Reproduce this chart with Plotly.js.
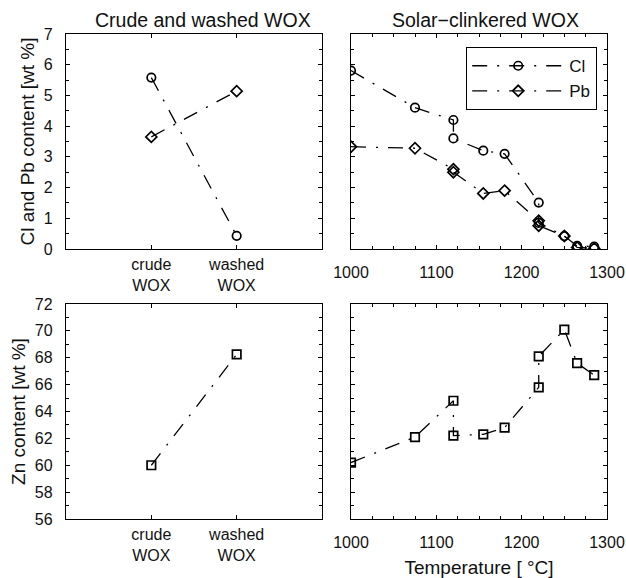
<!DOCTYPE html>
<html>
<head>
<meta charset="utf-8">
<script src="https://cdn.plot.ly/plotly-3.0.1.min.js"></script>
<style>html,body{margin:0;padding:0;background:#fff}</style>
</head>
<body>
<div id="chart" style="width:626px;height:578px"></div>
<script>
// Left panels: crude vs washed WOX
const washCats = [1, 2];
const washLabels = ['crude<br>WOX', 'washed<br>WOX'];
const washCl = [5.58, 0.43];
const washPb = [3.65, 5.14];
const washZn = [60.0, 68.25];

// Right panels: solar-clinkered WOX vs temperature (°C)
const temps = [1000, 1075, 1120, 1120, 1155, 1180, 1220, 1220, 1250, 1265, 1285];
const solarCl = [5.81, 4.60, 4.20, 3.60, 3.20, 3.10, 1.51, 0.85, 0.42, 0.10, 0.08];
const solarPb = [3.33, 3.28, 2.60, 2.50, 1.81, 1.90, 0.92, 0.76, 0.42, 0.05, 0.02];
const solarZn = [60.2, 62.1, 64.8, 62.2, 62.3, 62.8, 65.8, 68.1, 70.1, 67.6, 66.7];

const W = 626, H = 578;
const FONT = 'Liberation Sans, Arial, sans-serif';
const DASH = '15px,10px,2px,10px';
const lineStyle = {color: 'black', width: 1.3, dash: DASH};
function mk(symbol) {
  return {symbol: symbol, size: 8.5, color: 'black', line: {color: 'black', width: 1.7}};
}

const traces = [
  {x: washCats, y: washCl, xaxis: 'x', yaxis: 'y', mode: 'lines+markers', line: lineStyle, marker: mk('circle-open'), showlegend: false, name: 'Cl'},
  {x: washCats, y: washPb, xaxis: 'x', yaxis: 'y', mode: 'lines+markers', line: lineStyle, marker: mk('diamond-open'), showlegend: false, name: 'Pb'},
  {x: temps, y: solarCl, xaxis: 'x2', yaxis: 'y2', mode: 'lines+markers', line: lineStyle, marker: mk('circle-open'), name: 'Cl'},
  {x: temps, y: solarPb, xaxis: 'x2', yaxis: 'y2', mode: 'lines+markers', line: lineStyle, marker: mk('diamond-open'), name: 'Pb'},
  {x: washCats, y: washZn, xaxis: 'x3', yaxis: 'y3', mode: 'lines+markers', line: lineStyle, marker: mk('square-open'), showlegend: false, name: 'Zn'},
  {x: temps, y: solarZn, xaxis: 'x4', yaxis: 'y4', mode: 'lines+markers', line: lineStyle, marker: mk('square-open'), showlegend: false, name: 'Zn'}
];

const px = v => v / W;
const py = v => 1 - v / H;
const leftDom = [px(66), px(322)];
const rightDom = [px(351), px(607)];
const topDom = [py(249), py(34)];
const botDom = [py(519), py(304)];

function baseAxis(extra) {
  return Object.assign({
    showline: true, linecolor: 'black', linewidth: 1.2, mirror: 'ticks',
    ticks: 'inside', ticklen: 4, tickwidth: 1, tickcolor: 'black',
    showgrid: false, zeroline: false, fixedrange: true,
    tickfont: {family: FONT, size: 16, color: '#111'},
    ticklabelstandoff: 9
  }, extra);
}
const minorX = {dtick: 25, ticks: 'inside', ticklen: 3, tickcolor: 'black', tickwidth: 1, showgrid: false};
const catFont = {family: FONT, size: 16, color: '#111'};

const layout = {
  width: W, height: H,
  margin: {l: 0, r: 0, t: 0, b: 0},
  paper_bgcolor: 'white', plot_bgcolor: 'white',
  font: {family: FONT, color: '#111'},
  showlegend: true,
  legend: {
    x: px(597), y: py(47), xanchor: 'right', yanchor: 'top',
    bgcolor: 'white', bordercolor: 'black', borderwidth: 1.2,
    font: {family: FONT, size: 17, color: '#111'},
    itemwidth: 92, tracegroupgap: 0,
    entrywidth: 134, entrywidthmode: 'pixels'
  },
  xaxis: baseAxis({domain: leftDom, anchor: 'y', range: [0, 3], tickmode: 'array', tickvals: washCats, ticktext: washLabels, ticklabelstandoff: 1, tickfont: catFont}),
  yaxis: baseAxis({domain: topDom, anchor: 'x', range: [0, 7], dtick: 1,
    minor: {dtick: 0.5, ticks: 'inside', ticklen: 3, tickcolor: 'black', showgrid: false},
    title: {text: 'Cl and Pb content [wt %]', font: {family: FONT, size: 19, color: '#111'}, standoff: 4}}),
  xaxis2: baseAxis({domain: rightDom, anchor: 'y2', range: [1000, 1300], dtick: 100, minor: minorX}),
  yaxis2: baseAxis({domain: topDom, anchor: 'x2', range: [0, 7], dtick: 1, showticklabels: false,
    minor: {dtick: 0.5, ticks: 'inside', ticklen: 3, tickcolor: 'black', showgrid: false}}),
  xaxis3: baseAxis({domain: leftDom, anchor: 'y3', range: [0, 3], tickmode: 'array', tickvals: washCats, ticktext: washLabels, ticklabelstandoff: 1, tickfont: catFont}),
  yaxis3: baseAxis({domain: botDom, anchor: 'x3', range: [56, 72], dtick: 2,
    minor: {dtick: 1, ticks: 'inside', ticklen: 3, tickcolor: 'black', showgrid: false},
    title: {text: 'Zn content [wt %]', font: {family: FONT, size: 19, color: '#111'}, standoff: 4}}),
  xaxis4: baseAxis({domain: rightDom, anchor: 'y4', range: [1000, 1300], dtick: 100, minor: minorX,
    title: {text: 'Temperature [ °C]', font: {family: FONT, size: 19, color: '#111'}, standoff: 11}}),
  yaxis4: baseAxis({domain: botDom, anchor: 'x4', range: [56, 72], dtick: 2, showticklabels: false,
    minor: {dtick: 1, ticks: 'inside', ticklen: 3, tickcolor: 'black', showgrid: false}}),
  annotations: [
    {text: 'Crude and washed WOX', xref: 'paper', yref: 'paper', x: px(203), y: py(20), xanchor: 'center', yanchor: 'middle', showarrow: false, font: {family: FONT, size: 19.5, color: '#111'}},
    {text: 'Solar\u2212clinkered WOX', xref: 'paper', yref: 'paper', x: px(485), y: py(20), xanchor: 'center', yanchor: 'middle', showarrow: false, font: {family: FONT, size: 19.5, color: '#111'}}
  ]
};

Plotly.newPlot('chart', traces, layout, {staticPlot: true, displayModeBar: false});
</script>
</body>
</html>
